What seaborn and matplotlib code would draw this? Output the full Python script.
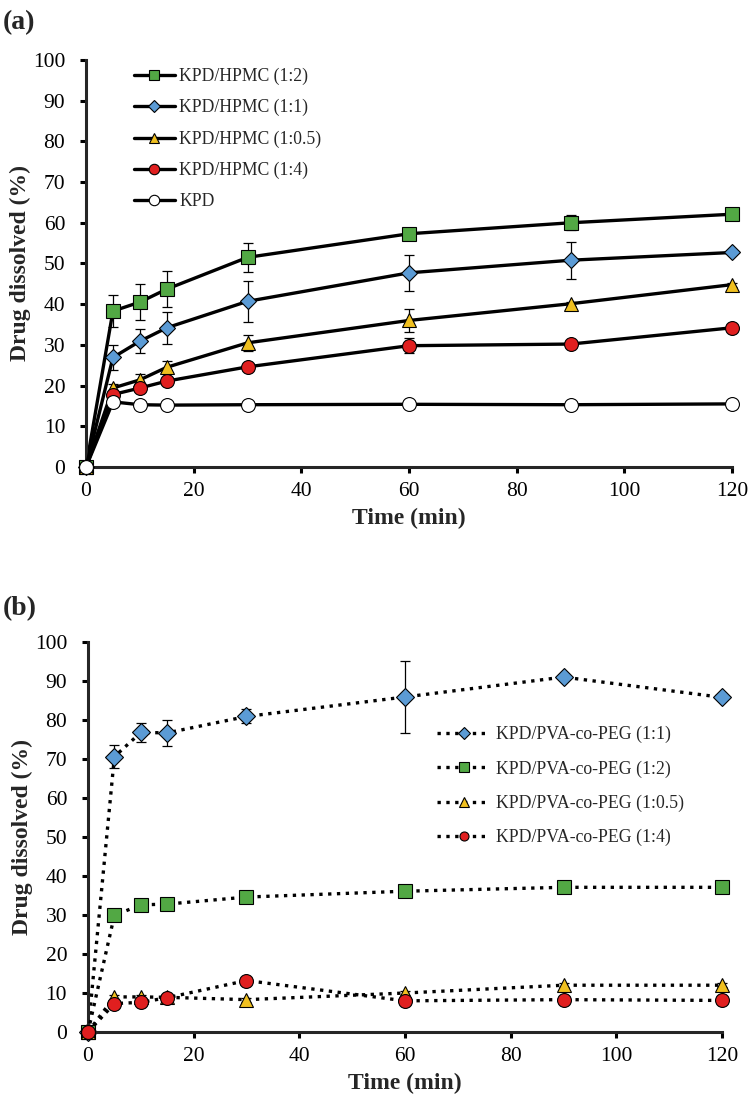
import numpy as np
import pandas as pd
import matplotlib
matplotlib.use("Agg")
import matplotlib.pyplot as plt
import seaborn as sns

# Time points (min)
time = [0, 5, 10, 15, 30, 60, 90, 120]

# Panel (a): KPD/HPMC
hpmc_12 = [0, 38.3, 40.5, 43.7, 51.5, 57.3, 60.0, 62.1]
hpmc_12_err = [0, 4.0, 4.5, 4.5, 3.5, 0.8, 1.8, 0.5]
hpmc_11 = [0, 26.9, 30.9, 34.2, 40.7, 47.7, 50.8, 52.7]
hpmc_11_err = [0, 3.0, 3.0, 4.0, 5.0, 4.5, 4.5, 0.4]
hpmc_105 = [0, 19.4, 21.4, 24.5, 30.5, 36.0, 40.1, 44.8]
hpmc_105_err = [0, 1.0, 1.5, 1.5, 2.0, 2.8, 0.5, 0.5]
hpmc_14 = [0, 17.8, 19.4, 21.1, 24.6, 29.8, 30.2, 34.2]
hpmc_14_err = [0, 1.0, 1.0, 1.0, 0.8, 1.8, 0.5, 0.5]
kpd = [0, 16.0, 15.3, 15.2, 15.3, 15.4, 15.3, 15.5]
kpd_err = [0, 0.3, 0.3, 0.3, 0.3, 0.3, 0.3, 0.3]

# Panel (b): KPD/PVA-co-PEG
peg_11 = [0, 70.6, 76.8, 76.7, 80.9, 85.9, 91.0, 85.8]
peg_11_err = [0, 3.0, 2.5, 3.3, 1.8, 9.3, 0.5, 0.5]
peg_12 = [0, 29.9, 32.6, 32.8, 34.6, 36.1, 37.1, 37.1]
peg_12_err = [0, 0.6, 0.6, 0.6, 0.6, 0.6, 0.5, 0.5]
peg_105 = [0, 9.0, 9.0, 8.9, 8.3, 10.0, 12.0, 12.0]
peg_105_err = [0, 0.5, 0.5, 0.5, 0.5, 0.5, 0.5, 0.5]
peg_14 = [0, 7.3, 7.6, 8.8, 13.2, 8.0, 8.3, 8.1]
peg_14_err = [0, 0.5, 0.5, 0.5, 0.5, 0.5, 0.5, 0.5]

GREEN = "#52a844"
BLUE = "#5b9bd5"
GOLD = "#f0c020"
RED = "#e01f1f"

sns.set_style("ticks")
plt.rcParams['font.family'] = ['Liberation Serif', 'DejaVu Serif']

fig = plt.figure(figsize=(7.5, 11.04), dpi=100)
ax_a = fig.add_axes([0.1147, 0.577, 0.8613, 0.3687])
ax_b = fig.add_axes([0.1173, 0.0652, 0.8454, 0.3533])


def draw_series(ax, y, err, label, color, marker, ms, ls, z):
    ax.errorbar(time, y, yerr=err, fmt='none', ecolor='black', elinewidth=0.9,
                capsize=3.5, capthick=0.9, zorder=z)
    sns.lineplot(x=time, y=y, ax=ax, color='black', linestyle=ls, linewidth=2.4,
                 marker=marker, markersize=ms, markerfacecolor=color,
                 markeredgecolor='black', markeredgewidth=0.8, label=label,
                 zorder=z + 0.5, errorbar=None)


# (a)
draw_series(ax_a, hpmc_12, hpmc_12_err, 'KPD/HPMC (1:2)', GREEN, 's', 10, '-', 2)
draw_series(ax_a, hpmc_11, hpmc_11_err, 'KPD/HPMC (1:1)', BLUE, 'D', 8.5, '-', 3)
draw_series(ax_a, hpmc_105, hpmc_105_err, 'KPD/HPMC (1:0.5)', GOLD, '^', 10, '-', 4)
draw_series(ax_a, hpmc_14, hpmc_14_err, 'KPD/HPMC (1:4)', RED, 'o', 10, '-', 5)
draw_series(ax_a, kpd, kpd_err, 'KPD', 'white', 'o', 10, '-', 6)

# (b)
draw_series(ax_b, peg_11, peg_11_err, 'KPD/PVA-co-PEG (1:1)', BLUE, 'D', 9, ':', 2)
draw_series(ax_b, peg_12, peg_12_err, 'KPD/PVA-co-PEG (1:2)', GREEN, 's', 10, ':', 3)
draw_series(ax_b, peg_105, peg_105_err, 'KPD/PVA-co-PEG (1:0.5)', GOLD, '^', 10, ':', 4)
draw_series(ax_b, peg_14, peg_14_err, 'KPD/PVA-co-PEG (1:4)', RED, 'o', 10, ':', 5)

for ax in (ax_a, ax_b):
    ax.set_xlim(0, 120)
    ax.set_ylim(0, 100)
    ax.set_xticks(range(0, 121, 20))
    ax.set_yticks(range(0, 101, 10))
    for ln in ax.lines:
        ln.set_clip_on(False)
    for coll in ax.collections:
        coll.set_clip_on(False)
    sns.despine(ax=ax)
    ax.spines['left'].set_linewidth(2.2)
    ax.spines['bottom'].set_linewidth(2.2)
    ax.tick_params(axis='both', direction='out', length=4, width=2.2,
                   labelsize=15.5, pad=7, colors='black')
    ax.tick_params(axis='y', pad=11)
    ax.set_xlabel('Time (min)', fontsize=17, fontweight='bold', labelpad=5)
    ax.set_ylabel('Drug dissolved (%)', fontsize=17, fontweight='bold', labelpad=1)

leg_a = ax_a.legend(loc='upper left', bbox_to_anchor=(0.05, 1.02), frameon=False,
                    fontsize=12.7, handlelength=2.3, labelspacing=0.8,
                    handletextpad=0.25, markerscale=0.75)
leg_b = ax_b.legend(loc='upper left', bbox_to_anchor=(0.525, 0.826), frameon=False,
                    fontsize=12.8, handlelength=3.0, labelspacing=0.96,
                    handletextpad=0.3, markerscale=0.65)

fig.text(0.004, 0.974, '(a)', fontsize=20, fontweight='bold')
fig.text(0.004, 0.443, '(b)', fontsize=20, fontweight='bold')

fig.savefig('out.png', dpi=100)
